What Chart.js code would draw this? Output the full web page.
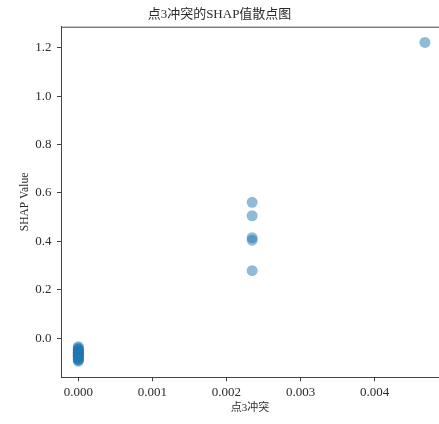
<!DOCTYPE html>
<html>
<head>
<meta charset="utf-8">
<script src="https://cdn.jsdelivr.net/npm/chart.js@4/dist/chart.umd.min.js"></script>
<style>
  html, body { margin: 0; padding: 0; background: #fff; overflow: hidden; }
  #wrap { width: 439px; height: 424px; position: relative; }
</style>
</head>
<body>
<div id="wrap"><canvas id="c"></canvas></div>
<script>
// 数据
const xValues = [
  0, 0, 0, 0, 0, 0, 0, 0, 0, 0,
  0, 0, 0, 0, 0, 0, 0, 0, 0, 0,
  0.002347, 0.002347, 0.002347, 0.002347, 0.002347,
  0.00468
];
const yValues = [
  -0.035, -0.040, -0.045, -0.048, -0.050, -0.055, -0.058, -0.060, -0.062, -0.065,
  -0.068, -0.070, -0.072, -0.075, -0.078, -0.080, -0.085, -0.088, -0.090, -0.095,
  0.5615, 0.506, 0.415, 0.405, 0.279,
  1.222
];
const xTickValues = [0, 0.001, 0.002, 0.003, 0.004];
const yTickValues = [0.0, 0.2, 0.4, 0.6, 0.8, 1.0, 1.2];

const titleText = "点3冲突的SHAP值散点图";
const xLabel = "点3冲突";
const yLabel = "SHAP Value";

const points = xValues.map((x, i) => ({ x: x, y: yValues[i] }));

const FONT = "'Liberation Serif', 'Noto Sans CJK SC', serif";
const AXIS = "#444";

Chart.defaults.color = "#2b2b2b";
Chart.defaults.font.family = FONT;

// 上边框
const topSpine = {
  id: "topSpine",
  afterDraw(chart) {
    const { ctx, chartArea } = chart;
    ctx.save();
    ctx.strokeStyle = AXIS;
    ctx.lineWidth = 1;
    ctx.beginPath();
    ctx.moveTo(chartArea.left, chartArea.top + 0.5);
    ctx.lineTo(chartArea.right, chartArea.top + 0.5);
    ctx.stroke();
    ctx.restore();
  }
};

new Chart(document.getElementById("c"), {
  type: "scatter",
  data: {
    datasets: [{
      data: points,
      backgroundColor: "rgba(31,119,180,0.5)",
      borderWidth: 0,
      pointRadius: 5.5,
      pointHoverRadius: 5.5
    }]
  },
  options: {
    responsive: true,
    maintainAspectRatio: false,
    animation: false,
    layout: { padding: 0, autoPadding: false },
    plugins: {
      legend: { display: false },
      tooltip: { enabled: false },
      title: {
        display: true,
        text: titleText,
        font: { size: 13, weight: "normal", family: FONT },
        padding: { top: 7.2, bottom: 3.9 }
      }
    },
    scales: {
      x: {
        type: "linear",
        min: -0.000234,
        max: 0.00487,
        afterBuildTicks: s => { s.ticks = xTickValues.map(v => ({ value: v })); },
        afterFit: s => { s.height = 46.7; s.paddingLeft = 0; s.paddingRight = 0; },
        grid: { display: true, drawOnChartArea: false, drawTicks: true, tickLength: 4, tickColor: AXIS },
        border: { display: true, color: AXIS, width: 1 },
        ticks: {
          font: { size: 13 },
          padding: 3,
          maxRotation: 0,
          callback: v => v.toFixed(3)
        },
        title: {
          display: true,
          text: xLabel,
          font: { size: 11 },
          padding: { top: 0, bottom: 9.4 }
        }
      },
      y: {
        type: "linear",
        min: -0.1615,
        max: 1.287,
        afterBuildTicks: s => { s.ticks = yTickValues.map(v => ({ value: v })); },
        afterFit: s => { s.width = 61; s.paddingTop = 0; s.paddingBottom = 0; },
        grid: { display: true, drawOnChartArea: false, drawTicks: true, tickLength: 4, tickColor: AXIS },
        border: { display: true, color: AXIS, width: 1 },
        ticks: {
          font: { size: 13 },
          padding: 5.5,
          callback: v => v.toFixed(1)
        },
        title: {
          display: true,
          text: yLabel,
          font: { size: 11.5 },
          padding: { top: 18.1, bottom: 0 }
        }
      }
    }
  },
  plugins: [topSpine]
});
</script>
</body>
</html>
